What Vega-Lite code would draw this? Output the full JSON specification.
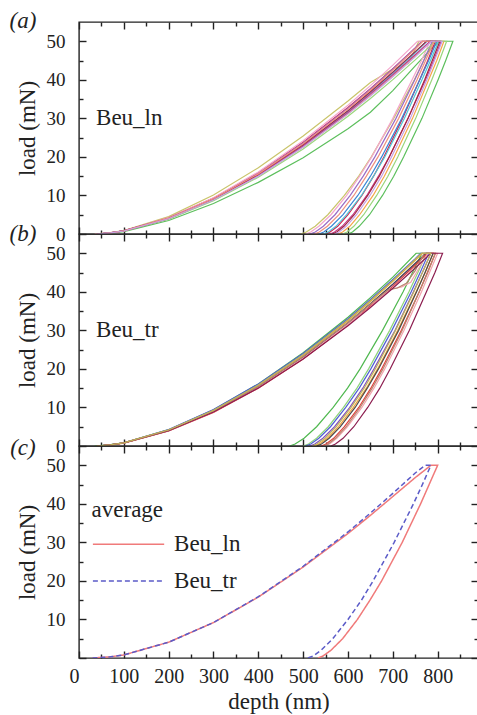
{
  "$schema": "https://vega.github.io/schema/vega-lite/v6.json",
  "background": "white",
  "padding": {"left": 8, "top": 9, "right": 0, "bottom": 0},
  "spacing": 0,
  "bounds": "flush",
  "resolve": {"scale": {"color": "independent", "strokeDash": "independent"}},
  "config": {
    "font": "Liberation Serif",
    "view": {"stroke": "#222", "strokeWidth": 1.4}
  },
  "datasets": {
    "a": [
      {"r":1,"d":35,"l":0},{"r":1,"d":70,"l":0.35},{"r":1,"d":100,"l":0.9},{"r":1,"d":200,"l":4.5},{"r":1,"d":300,"l":10.1},{"r":1,"d":400,"l":17.2},{"r":1,"d":500,"l":25.4},{"r":1,"d":600,"l":34.5},{"r":1,"d":650,"l":39.3},{"r":1,"d":700,"l":42.8},{"r":1,"d":735,"l":44.2},{"r":1,"d":758,"l":50},{"r":1,"d":790,"l":50},{"r":1,"d":769,"l":45},{"r":1,"d":748,"l":40},{"r":1,"d":702,"l":30},{"r":1,"d":652,"l":20},{"r":1,"d":624,"l":15},{"r":1,"d":592,"l":10},{"r":1,"d":555,"l":5},{"r":1,"d":527,"l":2},{"r":1,"d":507,"l":0.5},{"r":1,"d":495,"l":0},
      {"r":2,"d":50,"l":0},{"r":2,"d":100,"l":0.6},{"r":2,"d":200,"l":3.5},{"r":2,"d":300,"l":7.9},{"r":2,"d":400,"l":13.4},{"r":2,"d":500,"l":19.8},{"r":2,"d":600,"l":27.3},{"r":2,"d":650,"l":31.6},{"r":2,"d":700,"l":37.2},{"r":2,"d":750,"l":43.6},{"r":2,"d":790,"l":48.6},{"r":2,"d":805,"l":50},{"r":2,"d":834,"l":50},{"r":2,"d":818,"l":45},{"r":2,"d":801,"l":40},{"r":2,"d":765,"l":30},{"r":2,"d":724,"l":20},{"r":2,"d":702,"l":15},{"r":2,"d":677,"l":10},{"r":2,"d":648,"l":5},{"r":2,"d":625,"l":2},{"r":2,"d":610,"l":0.5},{"r":2,"d":600,"l":0},
      {"r":3,"d":40,"l":0},{"r":3,"d":70,"l":0.3},{"r":3,"d":100,"l":0.78},{"r":3,"d":200,"l":3.95},{"r":3,"d":300,"l":8.8},{"r":3,"d":400,"l":15.06},{"r":3,"d":500,"l":22.56},{"r":3,"d":600,"l":31.22},{"r":3,"d":650,"l":35.95},{"r":3,"d":700,"l":40.94},{"r":3,"d":750,"l":46.18},{"r":3,"d":785,"l":50},{"r":3,"d":814,"l":50},{"r":3,"d":798,"l":45},{"r":3,"d":780,"l":40},{"r":3,"d":744,"l":30},{"r":3,"d":703,"l":20},{"r":3,"d":681,"l":15},{"r":3,"d":656,"l":10},{"r":3,"d":626,"l":5},{"r":3,"d":604,"l":2},{"r":3,"d":588,"l":0.5},{"r":3,"d":578,"l":0},
      {"r":4,"d":40,"l":0},{"r":4,"d":70,"l":0.3},{"r":4,"d":100,"l":0.85},{"r":4,"d":200,"l":4.2},{"r":4,"d":300,"l":9.3},{"r":4,"d":400,"l":15.9},{"r":4,"d":500,"l":23.8},{"r":4,"d":600,"l":32.8},{"r":4,"d":650,"l":37.7},{"r":4,"d":700,"l":42.9},{"r":4,"d":750,"l":48.3},{"r":4,"d":765,"l":50},{"r":4,"d":795,"l":50},{"r":4,"d":778,"l":45},{"r":4,"d":760,"l":40},{"r":4,"d":722,"l":30},{"r":4,"d":680,"l":20},{"r":4,"d":657,"l":15},{"r":4,"d":631,"l":10},{"r":4,"d":600,"l":5},{"r":4,"d":577,"l":2},{"r":4,"d":560,"l":0.5},{"r":4,"d":550,"l":0},
      {"r":5,"d":40,"l":0},{"r":5,"d":70,"l":0.3},{"r":5,"d":100,"l":0.8},{"r":5,"d":200,"l":4.0},{"r":5,"d":300,"l":9.0},{"r":5,"d":400,"l":15.4},{"r":5,"d":500,"l":23.1},{"r":5,"d":600,"l":31.9},{"r":5,"d":650,"l":36.8},{"r":5,"d":700,"l":41.9},{"r":5,"d":750,"l":47.2},{"r":5,"d":775,"l":50},{"r":5,"d":798,"l":50},{"r":5,"d":780,"l":45},{"r":5,"d":760,"l":40},{"r":5,"d":720,"l":30},{"r":5,"d":675,"l":20},{"r":5,"d":650,"l":15},{"r":5,"d":622,"l":10},{"r":5,"d":589,"l":5},{"r":5,"d":563,"l":2},{"r":5,"d":546,"l":0.5},{"r":5,"d":535,"l":0},
      {"r":6,"d":40,"l":0},{"r":6,"d":70,"l":0.3},{"r":6,"d":100,"l":0.82},{"r":6,"d":200,"l":4.13},{"r":6,"d":300,"l":9.21},{"r":6,"d":400,"l":15.75},{"r":6,"d":500,"l":23.6},{"r":6,"d":600,"l":32.65},{"r":6,"d":650,"l":37.6},{"r":6,"d":700,"l":42.82},{"r":6,"d":750,"l":48.3},{"r":6,"d":765,"l":50},{"r":6,"d":788,"l":50},{"r":6,"d":769,"l":45},{"r":6,"d":749,"l":40},{"r":6,"d":707,"l":30},{"r":6,"d":660,"l":20},{"r":6,"d":634,"l":15},{"r":6,"d":605,"l":10},{"r":6,"d":571,"l":5},{"r":6,"d":545,"l":2},{"r":6,"d":527,"l":0.5},{"r":6,"d":515,"l":0},
      {"r":7,"d":35,"l":0},{"r":7,"d":70,"l":0.35},{"r":7,"d":100,"l":0.84},{"r":7,"d":200,"l":4.23},{"r":7,"d":300,"l":9.42},{"r":7,"d":400,"l":16.1},{"r":7,"d":500,"l":24.2},{"r":7,"d":600,"l":33.4},{"r":7,"d":650,"l":38.5},{"r":7,"d":700,"l":43.8},{"r":7,"d":755,"l":50},{"r":7,"d":783,"l":50},{"r":7,"d":764,"l":45},{"r":7,"d":743,"l":40},{"r":7,"d":700,"l":30},{"r":7,"d":653,"l":20},{"r":7,"d":626,"l":15},{"r":7,"d":597,"l":10},{"r":7,"d":562,"l":5},{"r":7,"d":535,"l":2},{"r":7,"d":517,"l":0.5},{"r":7,"d":505,"l":0},
      {"r":8,"d":40,"l":0},{"r":8,"d":70,"l":0.3},{"r":8,"d":100,"l":0.78},{"r":8,"d":200,"l":3.95},{"r":8,"d":300,"l":8.9},{"r":8,"d":400,"l":15.2},{"r":8,"d":500,"l":22.8},{"r":8,"d":600,"l":31.6},{"r":8,"d":650,"l":36.5},{"r":8,"d":700,"l":41.6},{"r":8,"d":750,"l":47.0},{"r":8,"d":776,"l":50},{"r":8,"d":802,"l":50},{"r":8,"d":784,"l":45},{"r":8,"d":765,"l":40},{"r":8,"d":726,"l":30},{"r":8,"d":682,"l":20},{"r":8,"d":657,"l":15},{"r":8,"d":630,"l":10},{"r":8,"d":597,"l":5},{"r":8,"d":573,"l":2},{"r":8,"d":556,"l":0.5},{"r":8,"d":545,"l":0},
      {"r":9,"d":40,"l":0},{"r":9,"d":70,"l":0.3},{"r":9,"d":100,"l":0.8},{"r":9,"d":200,"l":4.0},{"r":9,"d":300,"l":8.95},{"r":9,"d":400,"l":15.3},{"r":9,"d":500,"l":22.9},{"r":9,"d":600,"l":31.5},{"r":9,"d":650,"l":36.3},{"r":9,"d":700,"l":41.3},{"r":9,"d":750,"l":46.5},{"r":9,"d":783,"l":50},{"r":9,"d":808,"l":50},{"r":9,"d":791,"l":45},{"r":9,"d":773,"l":40},{"r":9,"d":734,"l":30},{"r":9,"d":692,"l":20},{"r":9,"d":668,"l":15},{"r":9,"d":642,"l":10},{"r":9,"d":611,"l":5},{"r":9,"d":587,"l":2},{"r":9,"d":570,"l":0.5},{"r":9,"d":560,"l":0},
      {"r":10,"d":45,"l":0},{"r":10,"d":70,"l":0.25},{"r":10,"d":100,"l":0.77},{"r":10,"d":200,"l":3.87},{"r":10,"d":300,"l":8.61},{"r":10,"d":400,"l":14.73},{"r":10,"d":500,"l":22.07},{"r":10,"d":600,"l":30.54},{"r":10,"d":650,"l":35.17},{"r":10,"d":700,"l":40.05},{"r":10,"d":750,"l":45.18},{"r":10,"d":795,"l":50},{"r":10,"d":820,"l":50},{"r":10,"d":804,"l":45},{"r":10,"d":787,"l":40},{"r":10,"d":751,"l":30},{"r":10,"d":711,"l":20},{"r":10,"d":689,"l":15},{"r":10,"d":664,"l":10},{"r":10,"d":635,"l":5},{"r":10,"d":613,"l":2},{"r":10,"d":598,"l":0.5},{"r":10,"d":588,"l":0},
      {"r":11,"d":40,"l":0},{"r":11,"d":70,"l":0.3},{"r":11,"d":100,"l":0.8},{"r":11,"d":200,"l":4.05},{"r":11,"d":300,"l":9.05},{"r":11,"d":400,"l":15.5},{"r":11,"d":500,"l":23.2},{"r":11,"d":600,"l":32.0},{"r":11,"d":650,"l":36.9},{"r":11,"d":700,"l":42.0},{"r":11,"d":750,"l":47.3},{"r":11,"d":775,"l":50},{"r":11,"d":805,"l":50},{"r":11,"d":788,"l":45},{"r":11,"d":771,"l":40},{"r":11,"d":734,"l":30},{"r":11,"d":692,"l":20},{"r":11,"d":670,"l":15},{"r":11,"d":644,"l":10},{"r":11,"d":614,"l":5},{"r":11,"d":591,"l":2},{"r":11,"d":575,"l":0.5},{"r":11,"d":565,"l":0},
      {"r":12,"d":40,"l":0},{"r":12,"d":70,"l":0.3},{"r":12,"d":100,"l":0.82},{"r":12,"d":200,"l":4.1},{"r":12,"d":300,"l":9.15},{"r":12,"d":400,"l":15.6},{"r":12,"d":500,"l":23.4},{"r":12,"d":600,"l":32.4},{"r":12,"d":650,"l":37.3},{"r":12,"d":700,"l":42.5},{"r":12,"d":750,"l":48.0},{"r":12,"d":767,"l":50},{"r":12,"d":792,"l":50},{"r":12,"d":773,"l":45},{"r":12,"d":754,"l":40},{"r":12,"d":713,"l":30},{"r":12,"d":667,"l":20},{"r":12,"d":641,"l":15},{"r":12,"d":613,"l":10},{"r":12,"d":580,"l":5},{"r":12,"d":554,"l":2},{"r":12,"d":536,"l":0.5},{"r":12,"d":525,"l":0},
      {"r":13,"d":40,"l":0},{"r":13,"d":70,"l":0.3},{"r":13,"d":100,"l":0.78},{"r":13,"d":200,"l":3.95},{"r":13,"d":300,"l":8.8},{"r":13,"d":400,"l":15.0},{"r":13,"d":500,"l":22.5},{"r":13,"d":600,"l":31.1},{"r":13,"d":650,"l":35.8},{"r":13,"d":700,"l":40.8},{"r":13,"d":750,"l":46.0},{"r":13,"d":786,"l":50},{"r":13,"d":810,"l":50},{"r":13,"d":793,"l":45},{"r":13,"d":776,"l":40},{"r":13,"d":739,"l":30},{"r":13,"d":697,"l":20},{"r":13,"d":675,"l":15},{"r":13,"d":649,"l":10},{"r":13,"d":619,"l":5},{"r":13,"d":596,"l":2},{"r":13,"d":580,"l":0.5},{"r":13,"d":570,"l":0}
    ],
    "b": [
      {"r":1,"d":35,"l":0},{"r":1,"d":70,"l":0.35},{"r":1,"d":100,"l":0.84},{"r":1,"d":200,"l":4.23},{"r":1,"d":300,"l":9.42},{"r":1,"d":400,"l":16.1},{"r":1,"d":500,"l":24.2},{"r":1,"d":600,"l":33.4},{"r":1,"d":650,"l":38.5},{"r":1,"d":700,"l":43.8},{"r":1,"d":752,"l":50},{"r":1,"d":765,"l":50},{"r":1,"d":744,"l":45},{"r":1,"d":723,"l":40},{"r":1,"d":677,"l":30},{"r":1,"d":627,"l":20},{"r":1,"d":599,"l":15},{"r":1,"d":567,"l":10},{"r":1,"d":530,"l":5},{"r":1,"d":502,"l":2},{"r":1,"d":482,"l":0.5},{"r":1,"d":470,"l":0},
      {"r":2,"d":40,"l":0},{"r":2,"d":70,"l":0.3},{"r":2,"d":100,"l":0.82},{"r":2,"d":200,"l":4.13},{"r":2,"d":300,"l":9.21},{"r":2,"d":400,"l":15.75},{"r":2,"d":500,"l":23.6},{"r":2,"d":600,"l":32.65},{"r":2,"d":650,"l":37.6},{"r":2,"d":700,"l":42.82},{"r":2,"d":750,"l":48.3},{"r":2,"d":765,"l":50},{"r":2,"d":775,"l":50},{"r":2,"d":756,"l":45},{"r":2,"d":736,"l":40},{"r":2,"d":693,"l":30},{"r":2,"d":646,"l":20},{"r":2,"d":620,"l":15},{"r":2,"d":590,"l":10},{"r":2,"d":556,"l":5},{"r":2,"d":530,"l":2},{"r":2,"d":512,"l":0.5},{"r":2,"d":500,"l":0},
      {"r":3,"d":40,"l":0},{"r":3,"d":70,"l":0.3},{"r":3,"d":100,"l":0.85},{"r":3,"d":200,"l":4.25},{"r":3,"d":300,"l":9.45},{"r":3,"d":400,"l":16.1},{"r":3,"d":500,"l":24.0},{"r":3,"d":600,"l":33.0},{"r":3,"d":650,"l":38.0},{"r":3,"d":700,"l":43.2},{"r":3,"d":750,"l":48.6},{"r":3,"d":762,"l":50},{"r":3,"d":780,"l":50},{"r":3,"d":761,"l":45},{"r":3,"d":741,"l":40},{"r":3,"d":698,"l":30},{"r":3,"d":651,"l":20},{"r":3,"d":625,"l":15},{"r":3,"d":595,"l":10},{"r":3,"d":561,"l":5},{"r":3,"d":535,"l":2},{"r":3,"d":517,"l":0.5},{"r":3,"d":505,"l":0},
      {"r":4,"d":40,"l":0},{"r":4,"d":70,"l":0.3},{"r":4,"d":100,"l":0.8},{"r":4,"d":200,"l":4.04},{"r":4,"d":300,"l":9.0},{"r":4,"d":400,"l":15.4},{"r":4,"d":500,"l":23.1},{"r":4,"d":600,"l":31.9},{"r":4,"d":650,"l":36.8},{"r":4,"d":700,"l":41.9},{"r":4,"d":750,"l":47.2},{"r":4,"d":775,"l":50},{"r":4,"d":785,"l":50},{"r":4,"d":766,"l":45},{"r":4,"d":746,"l":40},{"r":4,"d":705,"l":30},{"r":4,"d":658,"l":20},{"r":4,"d":633,"l":15},{"r":4,"d":604,"l":10},{"r":4,"d":570,"l":5},{"r":4,"d":544,"l":2},{"r":4,"d":526,"l":0.5},{"r":4,"d":515,"l":0},
      {"r":5,"d":40,"l":0},{"r":5,"d":70,"l":0.3},{"r":5,"d":100,"l":0.82},{"r":5,"d":200,"l":4.13},{"r":5,"d":300,"l":9.2},{"r":5,"d":400,"l":15.7},{"r":5,"d":500,"l":23.5},{"r":5,"d":600,"l":32.5},{"r":5,"d":650,"l":37.5},{"r":5,"d":700,"l":42.7},{"r":5,"d":750,"l":48.2},{"r":5,"d":766,"l":50},{"r":5,"d":790,"l":50},{"r":5,"d":772,"l":45},{"r":5,"d":752,"l":40},{"r":5,"d":711,"l":30},{"r":5,"d":666,"l":20},{"r":5,"d":641,"l":15},{"r":5,"d":612,"l":10},{"r":5,"d":579,"l":5},{"r":5,"d":554,"l":2},{"r":5,"d":536,"l":0.5},{"r":5,"d":525,"l":0},
      {"r":6,"d":40,"l":0},{"r":6,"d":70,"l":0.3},{"r":6,"d":100,"l":0.8},{"r":6,"d":200,"l":4.0},{"r":6,"d":300,"l":9.0},{"r":6,"d":400,"l":15.4},{"r":6,"d":500,"l":23.1},{"r":6,"d":600,"l":32.0},{"r":6,"d":650,"l":36.9},{"r":6,"d":700,"l":42.0},{"r":6,"d":750,"l":47.4},{"r":6,"d":774,"l":50},{"r":6,"d":790,"l":50},{"r":6,"d":772,"l":45},{"r":6,"d":753,"l":40},{"r":6,"d":713,"l":30},{"r":6,"d":668,"l":20},{"r":6,"d":643,"l":15},{"r":6,"d":616,"l":10},{"r":6,"d":583,"l":5},{"r":6,"d":558,"l":2},{"r":6,"d":541,"l":0.5},{"r":6,"d":530,"l":0},
      {"r":7,"d":40,"l":0},{"r":7,"d":70,"l":0.25},{"r":7,"d":100,"l":0.75},{"r":7,"d":200,"l":3.9},{"r":7,"d":300,"l":8.7},{"r":7,"d":400,"l":15.0},{"r":7,"d":500,"l":22.6},{"r":7,"d":600,"l":31.4},{"r":7,"d":650,"l":36.3},{"r":7,"d":700,"l":41.4},{"r":7,"d":750,"l":46.9},{"r":7,"d":777,"l":50},{"r":7,"d":795,"l":50},{"r":7,"d":777,"l":45},{"r":7,"d":759,"l":40},{"r":7,"d":719,"l":30},{"r":7,"d":675,"l":20},{"r":7,"d":651,"l":15},{"r":7,"d":624,"l":10},{"r":7,"d":592,"l":5},{"r":7,"d":568,"l":2},{"r":7,"d":551,"l":0.5},{"r":7,"d":540,"l":0},
      {"r":8,"d":40,"l":0},{"r":8,"d":70,"l":0.3},{"r":8,"d":100,"l":0.8},{"r":8,"d":200,"l":4.0},{"r":8,"d":300,"l":8.9},{"r":8,"d":400,"l":15.2},{"r":8,"d":500,"l":22.8},{"r":8,"d":600,"l":31.5},{"r":8,"d":650,"l":36.0},{"r":8,"d":680,"l":39.5},{"r":8,"d":700,"l":40.8},{"r":8,"d":720,"l":41.3},{"r":8,"d":740,"l":42.5},{"r":8,"d":760,"l":46.5},{"r":8,"d":778,"l":50},{"r":8,"d":800,"l":50},{"r":8,"d":782,"l":45},{"r":8,"d":764,"l":40},{"r":8,"d":725,"l":30},{"r":8,"d":682,"l":20},{"r":8,"d":658,"l":15},{"r":8,"d":631,"l":10},{"r":8,"d":599,"l":5},{"r":8,"d":575,"l":2},{"r":8,"d":559,"l":0.5},{"r":8,"d":548,"l":0},
      {"r":9,"d":40,"l":0},{"r":9,"d":70,"l":0.3},{"r":9,"d":100,"l":0.8},{"r":9,"d":200,"l":4.1},{"r":9,"d":300,"l":9.1},{"r":9,"d":400,"l":15.5},{"r":9,"d":500,"l":23.2},{"r":9,"d":600,"l":32.0},{"r":9,"d":650,"l":36.8},{"r":9,"d":690,"l":40.5},{"r":9,"d":710,"l":41.0},{"r":9,"d":730,"l":42.2},{"r":9,"d":750,"l":45.5},{"r":9,"d":770,"l":50},{"r":9,"d":795,"l":50},{"r":9,"d":778,"l":45},{"r":9,"d":759,"l":40},{"r":9,"d":721,"l":30},{"r":9,"d":678,"l":20},{"r":9,"d":654,"l":15},{"r":9,"d":627,"l":10},{"r":9,"d":596,"l":5},{"r":9,"d":572,"l":2},{"r":9,"d":556,"l":0.5},{"r":9,"d":545,"l":0},
      {"r":10,"d":40,"l":0},{"r":10,"d":70,"l":0.3},{"r":10,"d":100,"l":0.78},{"r":10,"d":200,"l":3.95},{"r":10,"d":300,"l":8.8},{"r":10,"d":400,"l":15.06},{"r":10,"d":500,"l":22.56},{"r":10,"d":600,"l":31.22},{"r":10,"d":650,"l":35.95},{"r":10,"d":700,"l":40.94},{"r":10,"d":750,"l":46.18},{"r":10,"d":785,"l":50},{"r":10,"d":811,"l":50},{"r":10,"d":794,"l":45},{"r":10,"d":775,"l":40},{"r":10,"d":737,"l":30},{"r":10,"d":694,"l":20},{"r":10,"d":671,"l":15},{"r":10,"d":644,"l":10},{"r":10,"d":613,"l":5},{"r":10,"d":589,"l":2},{"r":10,"d":572,"l":0.5},{"r":10,"d":562,"l":0},
      {"r":11,"d":40,"l":0},{"r":11,"d":70,"l":0.3},{"r":11,"d":100,"l":0.82},{"r":11,"d":200,"l":4.15},{"r":11,"d":300,"l":9.25},{"r":11,"d":400,"l":15.8},{"r":11,"d":500,"l":23.7},{"r":11,"d":600,"l":32.7},{"r":11,"d":650,"l":37.7},{"r":11,"d":700,"l":42.9},{"r":11,"d":750,"l":48.4},{"r":11,"d":764,"l":50},{"r":11,"d":785,"l":50},{"r":11,"d":766,"l":45},{"r":11,"d":747,"l":40},{"r":11,"d":706,"l":30},{"r":11,"d":661,"l":20},{"r":11,"d":636,"l":15},{"r":11,"d":607,"l":10},{"r":11,"d":574,"l":5},{"r":11,"d":549,"l":2},{"r":11,"d":531,"l":0.5},{"r":11,"d":520,"l":0}
    ],
    "c": [
      {"s":"Beu_ln","d":30,"l":0},{"s":"Beu_ln","d":70,"l":0.3},{"s":"Beu_ln","d":100,"l":0.8},{"s":"Beu_ln","d":200,"l":4.1},{"s":"Beu_ln","d":300,"l":9.2},{"s":"Beu_ln","d":400,"l":15.8},{"s":"Beu_ln","d":500,"l":23.6},{"s":"Beu_ln","d":600,"l":32.3},{"s":"Beu_ln","d":650,"l":37.0},{"s":"Beu_ln","d":700,"l":41.9},{"s":"Beu_ln","d":750,"l":46.8},{"s":"Beu_ln","d":785,"l":50},{"s":"Beu_ln","d":800,"l":50},{"s":"Beu_ln","d":781,"l":45},{"s":"Beu_ln","d":762,"l":40},{"s":"Beu_ln","d":721,"l":30},{"s":"Beu_ln","d":675,"l":20},{"s":"Beu_ln","d":649,"l":15},{"s":"Beu_ln","d":621,"l":10},{"s":"Beu_ln","d":588,"l":5},{"s":"Beu_ln","d":562,"l":2},{"s":"Beu_ln","d":544,"l":0.5},{"s":"Beu_ln","d":533,"l":0},
      {"s":"Beu_tr","d":30,"l":0},{"s":"Beu_tr","d":70,"l":0.3},{"s":"Beu_tr","d":100,"l":0.8},{"s":"Beu_tr","d":200,"l":4.1},{"s":"Beu_tr","d":300,"l":9.2},{"s":"Beu_tr","d":400,"l":15.9},{"s":"Beu_tr","d":500,"l":23.8},{"s":"Beu_tr","d":600,"l":32.7},{"s":"Beu_tr","d":650,"l":37.6},{"s":"Beu_tr","d":700,"l":42.7},{"s":"Beu_tr","d":750,"l":48.0},{"s":"Beu_tr","d":772,"l":50},{"s":"Beu_tr","d":785,"l":50},{"s":"Beu_tr","d":766,"l":45},{"s":"Beu_tr","d":746,"l":40},{"s":"Beu_tr","d":703,"l":30},{"s":"Beu_tr","d":656,"l":20},{"s":"Beu_tr","d":630,"l":15},{"s":"Beu_tr","d":600,"l":10},{"s":"Beu_tr","d":566,"l":5},{"s":"Beu_tr","d":540,"l":2},{"s":"Beu_tr","d":522,"l":0.5},{"s":"Beu_tr","d":510,"l":0}
    ]
  },
  "vconcat": [
    {
      "width": 399, "height": 212,
      "layer": [
        {
          "data": {"name": "a"},
          "mark": {"type": "line", "strokeWidth": 1.2, "clip": true},
          "encoding": {
            "x": {"field": "d", "type": "quantitative", "scale": {"domain": [0, 890], "nice": false, "zero": false},
                  "axis": {"orient": "bottom", "values": [0,50,100,150,200,250,300,350,400,450,500,550,600,650,700,750,800,850], "labels": false, "title": null, "domain": false, "grid": false, "tickColor": "#222", "tickWidth": 1.4, "tickSize": {"condition": {"test": "datum.value % 100 === 0", "value": -7}, "value": -4}}},
            "y": {"field": "l", "type": "quantitative", "scale": {"domain": [0, 55], "nice": false},
                  "axis": {"orient": "left", "values": [0,5,10,15,20,25,30,35,40,45,50], "labelExpr": "datum.value % 10 === 0 ? datum.label : ''", "title": "load (mN)", "labelFont": "Liberation Serif", "labelFontSize": 19, "labelColor": "#222", "titleFont": "Liberation Serif", "titleFontSize": 23, "titleFontWeight": "normal", "titleColor": "#222", "labelPadding": 21, "titlePadding": 7, "domain": false, "grid": false, "tickColor": "#222", "tickWidth": 1.4, "tickSize": {"condition": {"test": "datum.value % 10 === 0", "value": -7}, "value": -4}}},
            "color": {"field": "r", "type": "nominal", "legend": null,
                      "scale": {"domain": [1,2,3,4,5,6,7,8,9,10,11,12,13], "range": ["#c9c46a","#5cbf5c","#f5a54a","#d6204a","#3b86d6","#9a6cc6","#f4a6cc","#4fc6d6","#c2398c","#9ad67c","#a3283f","#f0907e","#c6a2e6"]}},
            "order": {"value": null}
          }
        },
        {
          "data": {"values": [{}]},
          "mark": {"type": "point", "opacity": 0},
          "encoding": {
            "x": {"datum": 0, "type": "quantitative", "scale": {"domain": [0, 890], "nice": false, "zero": false},
                  "axis": {"orient": "top", "values": [0,50,100,150,200,250,300,350,400,450,500,550,600,650,700,750,800,850], "labels": false, "title": null, "domain": false, "grid": false, "tickColor": "#222", "tickWidth": 1.4, "tickSize": {"condition": {"test": "datum.value % 100 === 0", "value": -7}, "value": -4}}},
            "y": {"datum": 0, "type": "quantitative", "scale": {"domain": [0, 55], "nice": false},
                  "axis": {"orient": "right", "values": [0,5,10,15,20,25,30,35,40,45,50], "labels": false, "title": null, "domain": false, "grid": false, "tickColor": "#222", "tickWidth": 1.4, "tickSize": {"condition": {"test": "datum.value % 10 === 0", "value": -7}, "value": -4}}}
          }
        },
        {
          "data": {"values": [{}]},
          "mark": {"type": "text", "font": "Liberation Serif", "fontStyle": "italic", "fontSize": 23, "align": "center", "baseline": "middle", "color": "#222"},
          "encoding": {
            "x": {"datum": -125, "type": "quantitative", "scale": {"domain": [0, 890], "nice": false, "zero": false}, "axis": null},
            "y": {"datum": 55.3, "type": "quantitative", "scale": {"domain": [0, 55], "nice": false}, "axis": null},
            "text": {"value": "(a)"}
          }
        },
        {
          "data": {"values": [{}]},
          "mark": {"type": "text", "font": "Liberation Serif", "fontSize": 23, "align": "left", "baseline": "middle", "color": "#222"},
          "encoding": {
            "x": {"datum": 38, "type": "quantitative", "scale": {"domain": [0, 890], "nice": false, "zero": false}, "axis": null},
            "y": {"datum": 30, "type": "quantitative", "scale": {"domain": [0, 55], "nice": false}, "axis": null},
            "text": {"value": "Beu_ln"}
          }
        }
      ],
      "resolve": {"axis": {"x": "independent", "y": "independent"}}
    },
    {
      "width": 399, "height": 212,
      "layer": [
        {
          "data": {"name": "b"},
          "mark": {"type": "line", "strokeWidth": 1.2, "clip": true},
          "encoding": {
            "x": {"field": "d", "type": "quantitative", "scale": {"domain": [0, 890], "nice": false, "zero": false},
                  "axis": {"orient": "bottom", "values": [0,50,100,150,200,250,300,350,400,450,500,550,600,650,700,750,800,850], "labels": false, "title": null, "domain": false, "grid": false, "tickColor": "#222", "tickWidth": 1.4, "tickSize": {"condition": {"test": "datum.value % 100 === 0", "value": -7}, "value": -4}}},
            "y": {"field": "l", "type": "quantitative", "scale": {"domain": [0, 55], "nice": false},
                  "axis": {"orient": "left", "values": [0,5,10,15,20,25,30,35,40,45,50], "labelExpr": "datum.value % 10 === 0 ? datum.label : ''", "title": "load (mN)", "labelFont": "Liberation Serif", "labelFontSize": 19, "labelColor": "#222", "titleFont": "Liberation Serif", "titleFontSize": 23, "titleFontWeight": "normal", "titleColor": "#222", "labelPadding": 21, "titlePadding": 7, "domain": false, "grid": false, "tickColor": "#222", "tickWidth": 1.4, "tickSize": {"condition": {"test": "datum.value % 10 === 0", "value": -7}, "value": -4}}},
            "color": {"field": "r", "type": "nominal", "legend": null,
                      "scale": {"domain": [1,2,3,4,5,6,7,8,9,10,11], "range": ["#4fb84f","#8fd47a","#4f5fd4","#8450c2","#f2a23a","#4a4a4a","#e2413d","#f3a3ad","#b7866f","#8c1d4f","#bdb55a"]}},
            "order": {"value": null}
          }
        },
        {
          "data": {"values": [{}]},
          "mark": {"type": "point", "opacity": 0},
          "encoding": {
            "x": {"datum": 0, "type": "quantitative", "scale": {"domain": [0, 890], "nice": false, "zero": false},
                  "axis": {"orient": "top", "values": [0,50,100,150,200,250,300,350,400,450,500,550,600,650,700,750,800,850], "labels": false, "title": null, "domain": false, "grid": false, "tickColor": "#222", "tickWidth": 1.4, "tickSize": {"condition": {"test": "datum.value % 100 === 0", "value": -7}, "value": -4}}},
            "y": {"datum": 0, "type": "quantitative", "scale": {"domain": [0, 55], "nice": false},
                  "axis": {"orient": "right", "values": [0,5,10,15,20,25,30,35,40,45,50], "labels": false, "title": null, "domain": false, "grid": false, "tickColor": "#222", "tickWidth": 1.4, "tickSize": {"condition": {"test": "datum.value % 10 === 0", "value": -7}, "value": -4}}}
          }
        },
        {
          "data": {"values": [{}]},
          "mark": {"type": "text", "font": "Liberation Serif", "fontStyle": "italic", "fontSize": 23, "align": "center", "baseline": "middle", "color": "#222"},
          "encoding": {
            "x": {"datum": -125, "type": "quantitative", "scale": {"domain": [0, 890], "nice": false, "zero": false}, "axis": null},
            "y": {"datum": 55, "type": "quantitative", "scale": {"domain": [0, 55], "nice": false}, "axis": null},
            "text": {"value": "(b)"}
          }
        },
        {
          "data": {"values": [{}]},
          "mark": {"type": "text", "font": "Liberation Serif", "fontSize": 23, "align": "left", "baseline": "middle", "color": "#222"},
          "encoding": {
            "x": {"datum": 38, "type": "quantitative", "scale": {"domain": [0, 890], "nice": false, "zero": false}, "axis": null},
            "y": {"datum": 30, "type": "quantitative", "scale": {"domain": [0, 55], "nice": false}, "axis": null},
            "text": {"value": "Beu_tr"}
          }
        }
      ],
      "resolve": {"axis": {"x": "independent", "y": "independent"}}
    },
    {
      "width": 399, "height": 212,
      "layer": [
        {
          "data": {"name": "c"},
          "mark": {"type": "line", "strokeWidth": 1.5, "clip": true},
          "encoding": {
            "x": {"field": "d", "type": "quantitative", "scale": {"domain": [0, 890], "nice": false, "zero": false},
                  "axis": {"orient": "bottom", "values": [0,50,100,150,200,250,300,350,400,450,500,550,600,650,700,750,800,850], "labelExpr": "datum.value % 100 === 0 ? datum.label : ''", "labelAlign": {"condition": {"test": "datum.value === 0", "value": "right"}, "value": "center"}, "title": "depth (nm)", "labelFont": "Liberation Serif", "labelFontSize": 20, "labelColor": "#222", "titleFont": "Liberation Serif", "titleFontSize": 23, "titleFontWeight": "normal", "titleColor": "#222", "labelPadding": 15, "titlePadding": 4, "domain": false, "grid": false, "tickColor": "#222", "tickWidth": 1.4, "tickSize": {"condition": {"test": "datum.value % 100 === 0", "value": -7}, "value": -4}}},
            "y": {"field": "l", "type": "quantitative", "scale": {"domain": [0, 55], "nice": false},
                  "axis": {"orient": "left", "values": [0,5,10,15,20,25,30,35,40,45,50], "labelExpr": "datum.value % 10 === 0 && datum.value > 0 ? datum.label : ''", "title": "load (mN)", "labelFont": "Liberation Serif", "labelFontSize": 19, "labelColor": "#222", "titleFont": "Liberation Serif", "titleFontSize": 23, "titleFontWeight": "normal", "titleColor": "#222", "labelPadding": 21, "titlePadding": 7, "domain": false, "grid": false, "tickColor": "#222", "tickWidth": 1.4, "tickSize": {"condition": {"test": "datum.value % 10 === 0", "value": -7}, "value": -4}}},
            "color": {"field": "s", "type": "nominal", "legend": null, "scale": {"domain": ["Beu_ln", "Beu_tr"], "range": ["#f07a7a", "#5b5bc8"]}},
            "strokeDash": {"field": "s", "type": "nominal", "legend": null, "scale": {"domain": ["Beu_ln", "Beu_tr"], "range": [[1, 0], [5, 3]]}},
            "order": {"value": null}
          }
        },
        {
          "data": {"values": [{}]},
          "mark": {"type": "point", "opacity": 0},
          "encoding": {
            "x": {"datum": 0, "type": "quantitative", "scale": {"domain": [0, 890], "nice": false, "zero": false},
                  "axis": {"orient": "top", "values": [0,50,100,150,200,250,300,350,400,450,500,550,600,650,700,750,800,850], "labels": false, "title": null, "domain": false, "grid": false, "tickColor": "#222", "tickWidth": 1.4, "tickSize": {"condition": {"test": "datum.value % 100 === 0", "value": -7}, "value": -4}}},
            "y": {"datum": 0, "type": "quantitative", "scale": {"domain": [0, 55], "nice": false},
                  "axis": {"orient": "right", "values": [0,5,10,15,20,25,30,35,40,45,50], "labels": false, "title": null, "domain": false, "grid": false, "tickColor": "#222", "tickWidth": 1.4, "tickSize": {"condition": {"test": "datum.value % 10 === 0", "value": -7}, "value": -4}}}
          }
        },
        {
          "data": {"values": [{}]},
          "mark": {"type": "text", "font": "Liberation Serif", "fontStyle": "italic", "fontSize": 23, "align": "center", "baseline": "middle", "color": "#222"},
          "encoding": {
            "x": {"datum": -125, "type": "quantitative", "scale": {"domain": [0, 890], "nice": false, "zero": false}, "axis": null},
            "y": {"datum": 54.5, "type": "quantitative", "scale": {"domain": [0, 55], "nice": false}, "axis": null},
            "text": {"value": "(c)"}
          }
        },
        {
          "data": {"values": [{}]},
          "mark": {"type": "text", "font": "Liberation Serif", "fontSize": 23, "align": "left", "baseline": "middle", "color": "#222"},
          "encoding": {
            "x": {"datum": 28, "type": "quantitative", "scale": {"domain": [0, 890], "nice": false, "zero": false}, "axis": null},
            "y": {"datum": 38.3, "type": "quantitative", "scale": {"domain": [0, 55], "nice": false}, "axis": null},
            "text": {"value": "average"}
          }
        },
        {
          "data": {"values": [{}]},
          "mark": {"type": "rule", "strokeWidth": 1.5, "color": "#f07a7a"},
          "encoding": {
            "x": {"datum": 31, "type": "quantitative", "scale": {"domain": [0, 890], "nice": false, "zero": false}, "axis": null},
            "x2": {"datum": 190},
            "y": {"datum": 29.5, "type": "quantitative", "scale": {"domain": [0, 55], "nice": false}, "axis": null}
          }
        },
        {
          "data": {"values": [{}]},
          "mark": {"type": "rule", "strokeWidth": 1.5, "color": "#5b5bc8", "strokeDash": [5, 3]},
          "encoding": {
            "x": {"datum": 31, "type": "quantitative", "scale": {"domain": [0, 890], "nice": false, "zero": false}, "axis": null},
            "x2": {"datum": 190},
            "y": {"datum": 20, "type": "quantitative", "scale": {"domain": [0, 55], "nice": false}, "axis": null}
          }
        },
        {
          "data": {"values": [{}]},
          "mark": {"type": "text", "font": "Liberation Serif", "fontSize": 23, "align": "left", "baseline": "middle", "color": "#222"},
          "encoding": {
            "x": {"datum": 212, "type": "quantitative", "scale": {"domain": [0, 890], "nice": false, "zero": false}, "axis": null},
            "y": {"datum": 29.5, "type": "quantitative", "scale": {"domain": [0, 55], "nice": false}, "axis": null},
            "text": {"value": "Beu_ln"}
          }
        },
        {
          "data": {"values": [{}]},
          "mark": {"type": "text", "font": "Liberation Serif", "fontSize": 23, "align": "left", "baseline": "middle", "color": "#222"},
          "encoding": {
            "x": {"datum": 212, "type": "quantitative", "scale": {"domain": [0, 890], "nice": false, "zero": false}, "axis": null},
            "y": {"datum": 20, "type": "quantitative", "scale": {"domain": [0, 55], "nice": false}, "axis": null},
            "text": {"value": "Beu_tr"}
          }
        }
      ],
      "resolve": {"axis": {"x": "independent", "y": "independent"}}
    }
  ]
}
